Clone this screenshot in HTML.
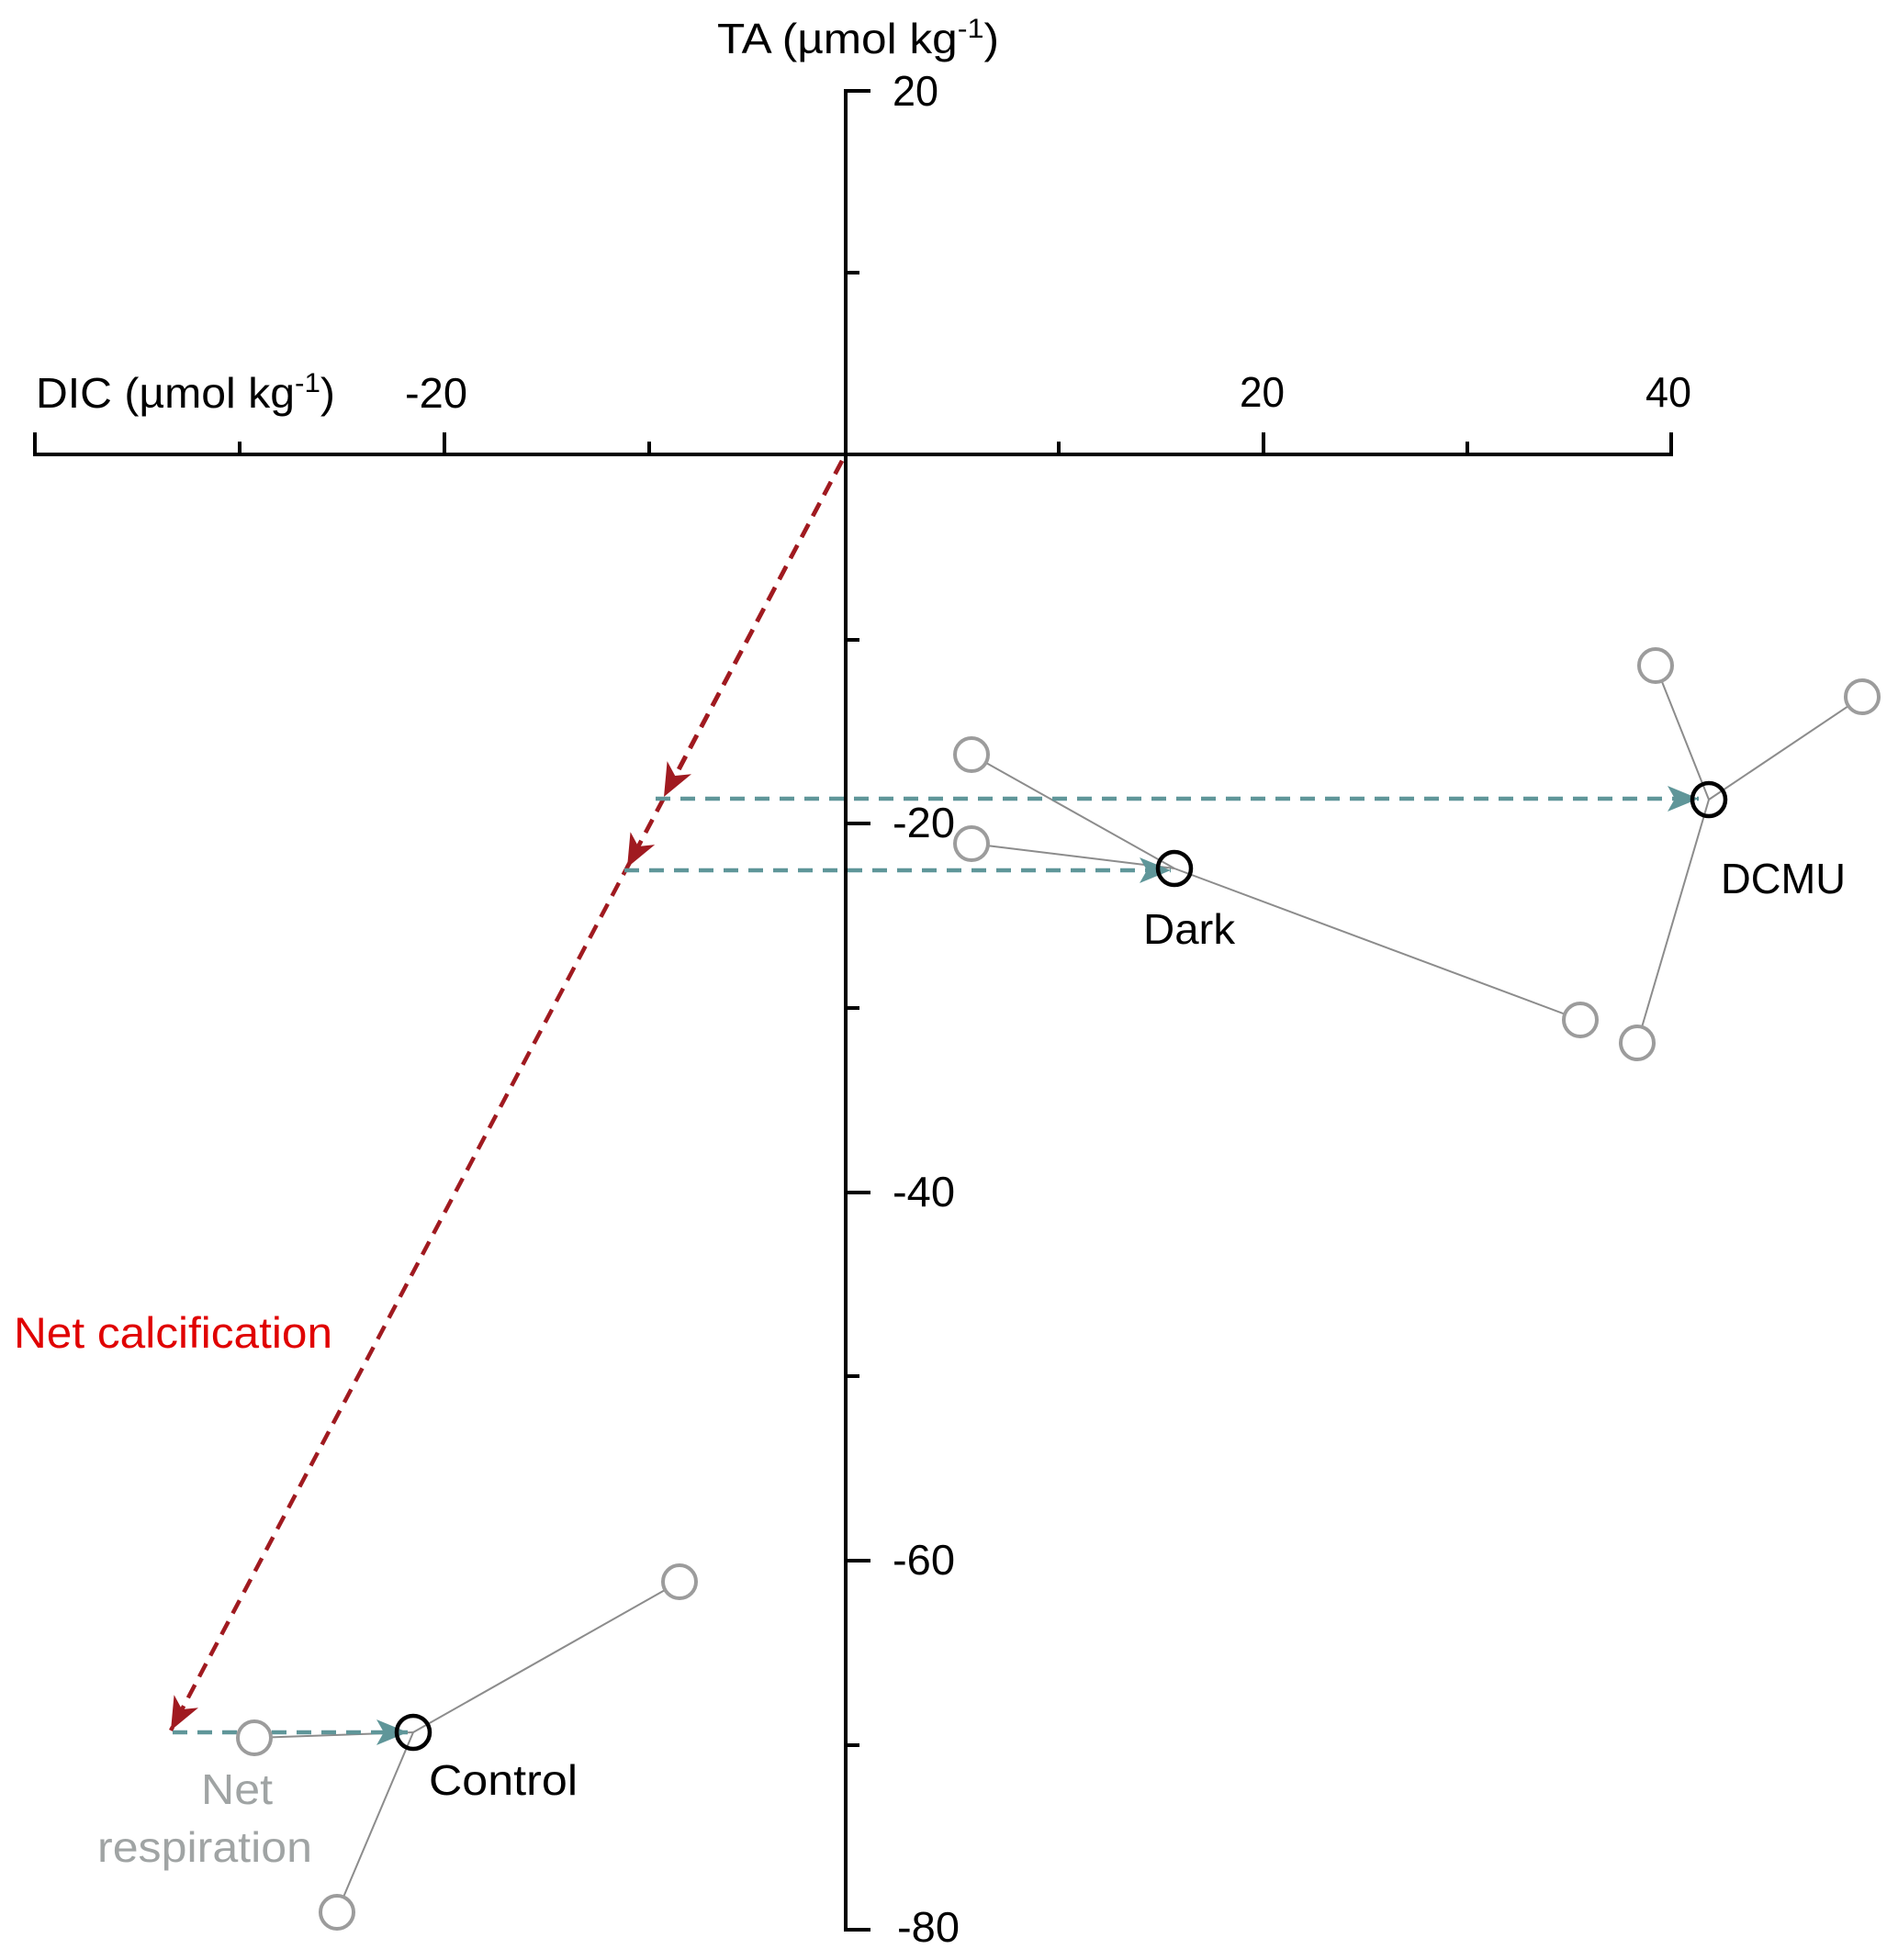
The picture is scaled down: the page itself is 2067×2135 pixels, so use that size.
<!DOCTYPE html>
<html><head><meta charset="utf-8"><style>
html,body{margin:0;padding:0;background:#fff;}
svg{display:block;}
text{font-family:"Liberation Sans",sans-serif;}
</style></head><body>
<svg width="2067" height="2135" viewBox="0 0 2067 2135" xmlns="http://www.w3.org/2000/svg">
<defs>
<marker id="rh" markerWidth="40" markerHeight="30" refX="36" refY="15" orient="auto" markerUnits="userSpaceOnUse">
<polygon points="36,15 0,0 10,15 0,30" fill="#a01a20"/>
</marker>
<marker id="th" markerWidth="40" markerHeight="30" refX="34" refY="14" orient="auto" markerUnits="userSpaceOnUse">
<polygon points="34,14 0,0 8,14 0,28" fill="#5f9699"/>
</marker>
</defs>
<g stroke="#000" stroke-width="4" fill="none">
<line x1="38" y1="495" x2="1820" y2="495"/>
<line x1="921" y1="99" x2="921" y2="2102"/>
<line x1="38" y1="471" x2="38" y2="497"/>
<line x1="261" y1="481" x2="261" y2="495"/>
<line x1="484" y1="471" x2="484" y2="495"/>
<line x1="707" y1="481" x2="707" y2="495"/>
<line x1="1153" y1="481" x2="1153" y2="495"/>
<line x1="1376" y1="471" x2="1376" y2="495"/>
<line x1="1598" y1="481" x2="1598" y2="495"/>
<line x1="1820" y1="471" x2="1820" y2="497"/>
<line x1="919" y1="99" x2="948" y2="99"/>
<line x1="921" y1="297" x2="936" y2="297"/>
<line x1="921" y1="697" x2="936" y2="697"/>
<line x1="921" y1="897" x2="948" y2="897"/>
<line x1="921" y1="1098" x2="936" y2="1098"/>
<line x1="921" y1="1299" x2="948" y2="1299"/>
<line x1="921" y1="1499" x2="936" y2="1499"/>
<line x1="921" y1="1700" x2="948" y2="1700"/>
<line x1="921" y1="1901" x2="936" y2="1901"/>
<line x1="919" y1="2102" x2="948" y2="2102"/>
</g>
<g font-size="46" fill="#000">
<text x="781" y="58" textLength="307" lengthAdjust="spacingAndGlyphs">TA (µmol kg<tspan font-size="30" dy="-17">-1</tspan><tspan dy="17">)</tspan></text>
<text x="39" y="444" textLength="326" lengthAdjust="spacingAndGlyphs">DIC (µmol kg<tspan font-size="30" dy="-17">-1</tspan><tspan dy="17">)</tspan></text>
<text x="441" y="444" textLength="68" lengthAdjust="spacingAndGlyphs">-20</text>
<text x="1350" y="443" textLength="49" lengthAdjust="spacingAndGlyphs">20</text>
<text x="1792" y="443" textLength="50" lengthAdjust="spacingAndGlyphs">40</text>
<text x="972" y="115" textLength="50" lengthAdjust="spacingAndGlyphs">20</text>
<text x="972" y="912" textLength="68" lengthAdjust="spacingAndGlyphs">-20</text>
<text x="972" y="1314" textLength="68" lengthAdjust="spacingAndGlyphs">-40</text>
<text x="972" y="1715" textLength="68" lengthAdjust="spacingAndGlyphs">-60</text>
<text x="977" y="2115" textLength="68" lengthAdjust="spacingAndGlyphs">-80</text>
</g>
<g stroke="#8c8c8c" stroke-width="2" fill="none">
<line x1="1279" y1="946" x2="1058" y2="822"/>
<line x1="1279" y1="946" x2="1058" y2="919"/>
<line x1="1279" y1="946" x2="1721" y2="1111"/>
<line x1="1861" y1="871" x2="1803" y2="725"/>
<line x1="1861" y1="871" x2="2028" y2="759"/>
<line x1="1861" y1="871" x2="1783" y2="1136"/>
<line x1="450" y1="1887" x2="277" y2="1893"/>
<line x1="450" y1="1887" x2="740" y2="1723"/>
<line x1="450" y1="1887" x2="367" y2="2083"/>
</g>
<g stroke="#a01a20" stroke-width="4.5" fill="none" stroke-dasharray="16 10">
<line x1="917" y1="502" x2="186" y2="1885" marker-end="url(#rh)"/>
<line x1="917" y1="502" x2="723" y2="868" marker-end="url(#rh)"/>
<line x1="917" y1="502" x2="683" y2="945" marker-end="url(#rh)"/>
</g>
<g stroke="#5f9699" stroke-width="4.5" fill="none" stroke-dasharray="16 11">
<line x1="714" y1="870" x2="1850" y2="870" marker-end="url(#th)"/>
<line x1="680" y1="948" x2="1275" y2="948" marker-end="url(#th)"/>
<line x1="188" y1="1887" x2="444" y2="1887" marker-end="url(#th)"/>
</g>
<g stroke="#9c9c9c" stroke-width="4" fill="#fff">
<circle cx="1058" cy="822" r="18"/>
<circle cx="1058" cy="919" r="18"/>
<circle cx="1721" cy="1111" r="18"/>
<circle cx="1803" cy="725" r="18"/>
<circle cx="2028" cy="759" r="18"/>
<circle cx="1783" cy="1136" r="18"/>
<circle cx="277" cy="1893" r="18"/>
<circle cx="740" cy="1723" r="18"/>
<circle cx="367" cy="2083" r="18"/>
</g>
<g stroke="#000" stroke-width="4.5" fill="none">
<circle cx="1279" cy="946" r="18"/>
<circle cx="1861" cy="871" r="18"/>
<circle cx="450" cy="1887" r="18"/>
</g>
<g font-size="46">
<text x="1245" y="1028" fill="#000" textLength="100" lengthAdjust="spacingAndGlyphs">Dark</text>
<text x="1874" y="973" fill="#000" textLength="136" lengthAdjust="spacingAndGlyphs">DCMU</text>
<text x="467" y="1955" fill="#000" textLength="162" lengthAdjust="spacingAndGlyphs">Control</text>
<text x="219" y="1965" fill="#a0a4a4" textLength="78" lengthAdjust="spacingAndGlyphs">Net</text>
<text x="106" y="2028" fill="#a0a4a4" textLength="234" lengthAdjust="spacingAndGlyphs">respiration</text>
<text x="15" y="1468" fill="#e00000" font-size="47" textLength="347" lengthAdjust="spacingAndGlyphs">Net calcification</text>
</g>
</svg>
</body></html>
